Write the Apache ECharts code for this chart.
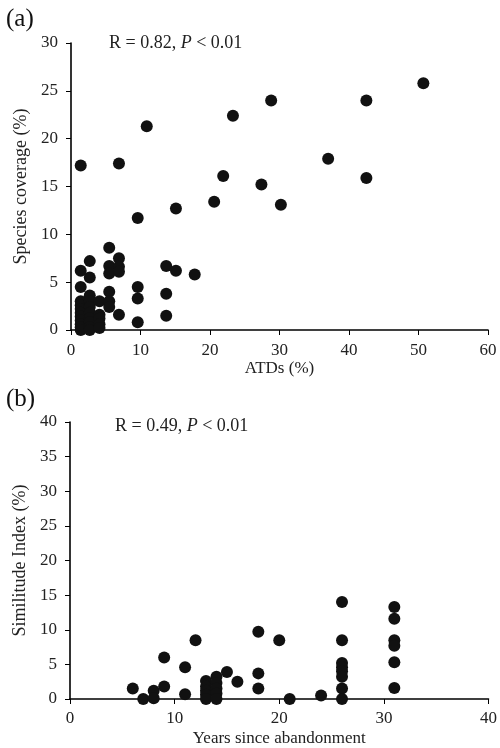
<!DOCTYPE html>
<html>
<head>
<meta charset="utf-8">
<script src="https://cdn.jsdelivr.net/npm/echarts@6/dist/echarts.min.js"></script>
<style>html,body{margin:0;padding:0;background:#fff}#c{width:500px;height:748px}</style>
</head>
<body>
<div id="c"></div>
<script>
// Panel (a): ATDs (%) vs Species coverage (%)
const atdsX = [1.4,1.4,1.4,1.4,1.4,1.4,1.4,1.4,1.4,1.4,1.4,1.4,
  2.7,2.7,2.7,2.7,2.7,2.7,2.7,2.7,2.7,2.7,
  4.1,4.1,4.1,4.1,4.1,
  5.5,5.5,5.5,5.5,5.5,5.5,
  6.9,6.9,6.9,6.9,6.9,
  9.6,9.6,9.6,9.6,
  10.9,
  13.7,13.7,13.7,
  15.1,15.1,
  17.8,20.6,21.9,23.3,27.4,28.8,30.2,37.0,42.5,42.5,50.7];
const coverageY = [17.2,6.2,4.5,3.0,2.6,2.2,1.8,1.4,1.0,0.6,0.3,0.0,
  7.2,5.5,3.6,3.0,2.4,1.8,1.2,0.8,0.3,0.0,
  3.0,1.6,1.2,0.6,0.2,
  8.6,6.7,5.9,4.0,3.0,2.4,
  17.4,7.5,6.6,6.1,1.6,
  11.7,4.5,3.3,0.8,
  21.3,
  6.7,3.8,1.5,
  12.7,6.2,
  5.8,13.4,16.1,22.4,15.2,24.0,13.1,17.9,24.0,15.9,25.8];

// Panel (b): Years since abandonment vs Similitude Index (%)
const yearsX = [6,7,8,8,9,9,11,11,12,
  13,13,13,13,13,
  14,14,14,14,14,
  15,16,18,18,18,20,21,24,
  26,26,26,26,26,26,26,26,
  31,31,31,31,31,31];
const similitudeY = [1.5,0,1.2,0.1,6.0,1.8,4.6,0.7,8.5,
  2.6,1.8,1.2,0.6,0,
  3.2,2.3,1.5,0.8,0,
  3.9,2.5,9.7,3.7,1.5,8.5,0,0.5,
  14.0,8.5,5.2,4.6,4.0,3.2,1.5,0,
  13.3,11.6,8.5,7.7,5.3,1.6];

const xTicksA = [0,10,20,30,40,50,60];
const yTicksA = [0,5,10,15,20,25,30];
const xTicksB = [0,10,20,30,40];
const yTicksB = [0,5,10,15,20,25,30,35,40];

const FONT = '"Liberation Serif", "Times New Roman", serif';
const zip = (a,b) => a.map((v,i)=>[v,b[i]]);

function xAxis(gi, ticks, name, gap, margin){
  return {
    gridIndex: gi, type:'value', min: ticks[0], max: ticks[ticks.length-1], interval: ticks[1]-ticks[0],
    name: name, nameLocation:'middle', nameGap: gap,
    nameTextStyle:{fontFamily:FONT, fontSize:17, color:'#222'},
    axisLine:{show:true, onZero:false, lineStyle:{color:'#000', width:1.6}},
    axisTick:{show:true, inside:false, length:5, lineStyle:{color:'#000', width:1}},
    axisLabel:{fontFamily:FONT, fontSize:17, color:'#222', margin: margin},
    splitLine:{show:false}
  };
}
function yAxis(gi, ticks, name){
  return {
    gridIndex: gi, type:'value', min: ticks[0], max: ticks[ticks.length-1], interval: ticks[1]-ticks[0],
    name: name, nameLocation:'middle', nameGap: 37,
    nameTextStyle:{fontFamily:FONT, fontSize:18, color:'#222'},
    axisLine:{show:true, onZero:false, lineStyle:{color:'#000', width:1.6}},
    axisTick:{show:true, inside:false, length:5, lineStyle:{color:'#000', width:1}},
    axisLabel:{fontFamily:FONT, fontSize:17, color:'#222', margin: 13},
    splitLine:{show:false}
  };
}
function rText(r){
  return {
    text: '{n|R = ' + r + ', }{i|P}{n| < 0.01}',
    textStyle:{rich:{
      n:{fontFamily:FONT, fontSize:18, fontWeight:'normal', color:'#222'},
      i:{fontFamily:FONT, fontSize:18, fontWeight:'normal', fontStyle:'italic', color:'#222'}
    }}
  };
}

const chart = echarts.init(document.getElementById('c'), null, {renderer:'canvas'});
chart.setOption({
  backgroundColor:'#fff',
  animation:false,
  title:[
    {text:'(a)', left:6, top:7, padding:0, textStyle:{fontFamily:FONT, fontSize:25, fontWeight:'normal', color:'#111'}},
    {text:'(b)', left:6, top:387, padding:0, textStyle:{fontFamily:FONT, fontSize:25, fontWeight:'normal', color:'#111'}},
    Object.assign({left:109, top:34, padding:0}, rText('0.82')),
    Object.assign({left:115, top:417, padding:0}, rText('0.49'))
  ],
  grid:[
    {left:71, top:43, width:417, height:287},
    {left:70, top:422, width:422, height:277}
  ],
  xAxis:[
    xAxis(0, xTicksA, 'ATDs (%)', 25, 12),
    xAxis(1, xTicksB, 'Years since abandonment', 31, 11)
  ],
  yAxis:[
    yAxis(0, yTicksA, 'Species coverage (%)'),
    yAxis(1, yTicksB, 'Similitude Index (%)')
  ],
  series:[
    {type:'scatter', xAxisIndex:0, yAxisIndex:0, data: zip(atdsX, coverageY),
     symbol:'circle', symbolSize:12, itemStyle:{color:'#111', opacity:1}, clip:false},
    {type:'scatter', xAxisIndex:1, yAxisIndex:1, data: zip(yearsX, similitudeY),
     symbol:'circle', symbolSize:12, itemStyle:{color:'#111', opacity:1}, clip:false}
  ]
});
</script>
</body>
</html>
